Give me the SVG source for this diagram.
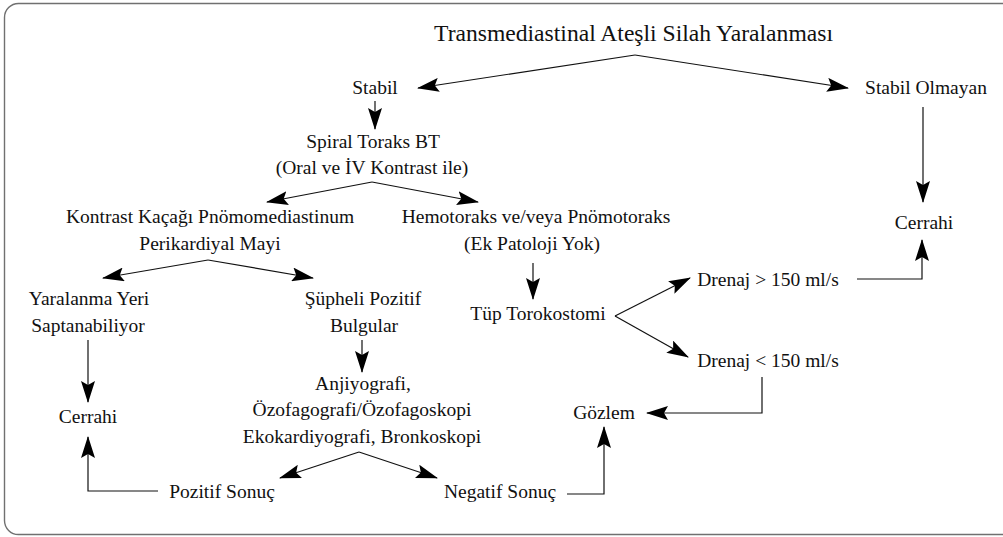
<svg xmlns="http://www.w3.org/2000/svg" width="1003" height="537" viewBox="0 0 1003 537">
<style>
text{font-family:"Liberation Serif","Times New Roman",serif;font-size:19.5px;fill:#111;text-anchor:middle}
.t{font-size:23.6px}
.c{fill:none;stroke:#111;stroke-width:1.2;marker-end:url(#ah)}
</style>
<defs>
<marker id="ah" viewBox="0 0 22 14" markerUnits="userSpaceOnUse" markerWidth="22" markerHeight="14" refX="21" refY="7" orient="auto">
<path d="M0,0 L22,7 L0,14 L4,7 Z" fill="#000"/>
</marker>
</defs>
<rect x="4.5" y="3.5" width="1012" height="531" rx="14" fill="#fff" stroke="#707070" stroke-width="1.4"/>
<g id="connectors">
<path class="c" d="M635,55 L418,88"/>
<path class="c" d="M635,55 L848,88"/>
<path class="c" d="M375,101 L375,129"/>
<path class="c" d="M372,182 L267,202"/>
<path class="c" d="M372,182 L478,202"/>
<path class="c" d="M208,260 L103,278"/>
<path class="c" d="M208,260 L313,278"/>
<path class="c" d="M88,340 L88,402"/>
<path class="c" d="M158,491 L88,491 L88,437"/>
<path class="c" d="M362,340 L362,372"/>
<path class="c" d="M359,452 L280,478"/>
<path class="c" d="M359,452 L437,478"/>
<path class="c" d="M567,494 L604,494 L604,427"/>
<path class="c" d="M533,263 L533,299"/>
<path class="c" d="M615,316 L690,278"/>
<path class="c" d="M615,316 L688,357"/>
<path class="c" d="M857,279 L922,279 L922,240"/>
<path class="c" d="M923,107 L923,202"/>
<path class="c" d="M762,377 L762,413 L647,413"/>
</g>
<g id="title"><text class="t" x="633.5" y="41">Transmediastinal Ateşli Silah Yaralanması</text></g>
<g id="stabil"><text x="375" y="94">Stabil</text></g>
<g id="stabil-olmayan"><text x="926" y="94">Stabil Olmayan</text></g>
<g id="spiral"><text x="373" y="148">Spiral Toraks BT</text><text x="372" y="174">(Oral ve İV Kontrast ile)</text></g>
<g id="kontrast"><text x="210" y="223">Kontrast Kaçağı Pnömomediastinum</text><text x="210" y="250">Perikardiyal Mayi</text></g>
<g id="hemotoraks"><text x="536" y="223">Hemotoraks ve/veya Pnömotoraks</text><text x="532" y="250">(Ek Patoloji Yok)</text></g>
<g id="cerrahi-right"><text x="924" y="229">Cerrahi</text></g>
<g id="yaralanma"><text x="89" y="305">Yaralanma Yeri</text><text x="88" y="332">Saptanabiliyor</text></g>
<g id="supheli"><text x="363" y="305">Şüpheli Pozitif</text><text x="364" y="332">Bulgular</text></g>
<g id="tup"><text x="538" y="320">Tüp Torokostomi</text></g>
<g id="drenaj-high"><text x="768" y="286">Drenaj &gt; 150 ml/s</text></g>
<g id="drenaj-low"><text x="768" y="367">Drenaj &lt; 150 ml/s</text></g>
<g id="cerrahi-left"><text x="88" y="423">Cerrahi</text></g>
<g id="tetkik"><text x="363" y="390">Anjiyografi,</text><text x="362" y="416">Özofagografi/Özofagoskopi</text><text x="362" y="443">Ekokardiyografi, Bronkoskopi</text></g>
<g id="gozlem"><text x="604" y="419">Gözlem</text></g>
<g id="pozitif"><text x="222" y="498">Pozitif Sonuç</text></g>
<g id="negatif"><text x="500" y="498">Negatif Sonuç</text></g>
</svg>
